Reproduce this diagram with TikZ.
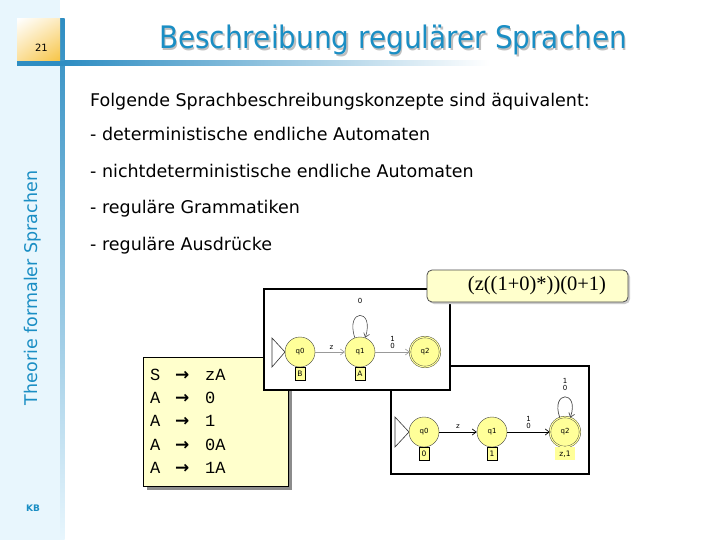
\documentclass[tikz,border=0pt]{standalone}
\usepackage{fontspec}
\setmainfont{DejaVu Sans}
\newfontfamily\gramfont{Liberation Mono}
\newfontfamily\regfont{Liberation Serif}
\newfontfamily\arrfont{DejaVu Sans}
\usetikzlibrary{arrows.meta,shadings}
\definecolor{panel}{HTML}{E8F6FD}
\definecolor{barblue}{HTML}{2E8DC2}
\definecolor{titleblue}{HTML}{1A8EC4}
\definecolor{noteyellow}{HTML}{FFFFCC}
\definecolor{stateyellow}{HTML}{FFFF99}
\definecolor{pnorange}{HTML}{F7C444}
\tikzset{
  body/.style={anchor=base west,inner sep=0pt,font=\fontsize{17.5}{21}\selectfont},
  titletext/.style={inner sep=0pt,font=\fontsize{31}{36}\selectfont,xscale=0.9,transform shape},
  statec/.style={circle,draw=black!75,fill=stateyellow,minimum size=30pt,inner sep=0pt,font=\fontsize{7}{8}\selectfont},
  acc/.style={statec,double=stateyellow,double distance=1.2pt},
  slabel/.style={draw=black,fill=stateyellow,minimum width=10pt,minimum height=13pt,inner sep=0pt,anchor=north,font=\fontsize{7.5}{8}\selectfont},
  elab/.style={font=\fontsize{7}{8}\selectfont,inner sep=0pt,align=center},
  nedge/.style={draw=black!40,line width=0.6pt,-{Straight Barb[length=4pt,width=6pt]}},
  dedge/.style={draw=black,line width=0.7pt,-{Straight Barb[length=4pt,width=6pt]}},
  boxframe/.style={draw=black,line width=1.2pt,fill=white},
  gram/.style={anchor=base west,inner sep=0pt,font=\gramfont\fontsize{17}{20}\selectfont},
  garr/.style={anchor=base west,inner sep=0pt,font=\arrfont\bfseries\fontsize{17}{20}\selectfont},
}
\begin{document}
\begin{tikzpicture}[x=1pt,y=-1pt]
\useasboundingbox (0,0) rectangle (720,540);
\fill[white] (0,0) rectangle (720,540);
% left panel
\fill[panel] (0,0) rectangle (60,540);
% vertical bar
\shade[top color=barblue,bottom color=panel] (60,19) rectangle (64.5,540);
% page number box
\shade[upper left=white,lower right=pnorange,upper right=pnorange!35,lower left=pnorange!55] (17,19) rectangle (60,61);
\node[anchor=base east,inner sep=0pt,font=\fontsize{10}{12}\selectfont] (pn) at (48,52) {21};
% horizontal bar
\fill[barblue] (17,61) rectangle (64.5,66);
\shade[left color=barblue,right color=white] (64.5,61) rectangle (490,66);
% title
\node[titletext,text=black!25] at (394.5,41.5) {Beschreibung regulärer Sprachen};
\node[titletext,text=titleblue] (title) at (393,40) {Beschreibung regulärer Sprachen};
% side text
\node[rotate=90,text=titleblue,font=\fontsize{17.5}{20}\selectfont,inner sep=0pt] (side) at (33,288) {Theorie formaler Sprachen};
\node[text=titleblue,font=\bfseries\fontsize{9}{11}\selectfont,inner sep=0pt] (kb) at (33,508) {KB};
% body text
\node[body] (t0) at (90,107) {Folgende Sprachbeschreibungskonzepte sind äquivalent:};
\node[body] (t1) at (90,141) {- deterministische endliche Automaten};
\node[body] (t2) at (90,178) {- nichtdeterministische endliche Automaten};
\node[body] (t3) at (90,214) {- reguläre Grammatiken};
\node[body] (t4) at (90,250) {- reguläre Ausdrücke};
% grammar box
\fill[black!45] (147,361) rectangle (292,490);
\draw[line width=0.8pt,fill=noteyellow] (143,357) rectangle (288,486);
\foreach \y/\l/\r [count=\i] in {380/S/zA,403/A/0,426/A/1,450/A/0A,473/A/1A}{
  \node[gram] (gl\i) at (150,\y) {\l};
  \node[garr] (ga\i) at (175,\y) {→};
  \node[gram] (gr\i) at (205,\y) {\r};
}
% DFA box
\draw[boxframe] (391,366) rectangle (589,474);
\node[statec] (d0) at (424,432) {q0};
\node[statec] (d1) at (492,432) {q1};
\node[acc] (d2) at (565,432) {q2};
\draw[black!80,line width=0.6pt] (395,417) -- (409,432) -- (395,447) -- cycle;
\node[slabel] (dl0) at (d0.south) {0};
\node[slabel] (dl1) at (d1.south) {1};
\node[slabel,minimum width=20pt,draw=none] (dl2) at (d2.south) {z,1};
\draw[dedge] (d0) -- node[elab,above=3pt] {z} (d1);
\draw[dedge] (d1) -- node[elab,above=3pt] {1\\[-1pt]0} (d2);
\draw[dedge,draw=black!70] (d2.110) .. controls (550,390) and (580,390) .. (d2.70);
\node[elab] (dloop) at (565,384) {1\\[-1pt]0};
% NFA box
\draw[boxframe] (264,289) rectangle (450,390);
\node[statec] (n0) at (300,352) {q0};
\node[statec] (n1) at (360,352) {q1};
\node[acc] (n2) at (425,352) {q2};
\draw[black!80,line width=0.6pt] (272,338) -- (285,352) -- (272,367) -- cycle;
\node[slabel] (nl0) at (n0.south) {B};
\node[slabel] (nl1) at (n1.south) {A};
\draw[nedge] (n0) -- node[elab,above=2pt,pos=0.55] {z} (n1);
\draw[nedge] (n1) -- node[elab,above=3pt] {1\\[-1pt]0} (n2);
\draw[nedge,draw=black!70] (n1.110) .. controls (345,308) and (375,308) .. (n1.70);
\node[elab] (nloop) at (360,301) {0};
% regex box
\fill[black!20,rounded corners=5pt] (429,272) rectangle (630,304);
\node[draw=black!70,line width=0.8pt,fill=noteyellow,rounded corners=5pt,minimum width=201pt,minimum height=32pt,inner sep=0pt] (regex) at (527.5,286) {};
\node[inner sep=0pt,font=\regfont\fontsize{20.5}{24}\selectfont] (regtext) at (537,286) {(z((1+0)*))(0+1)};
\end{tikzpicture}
\end{document}
